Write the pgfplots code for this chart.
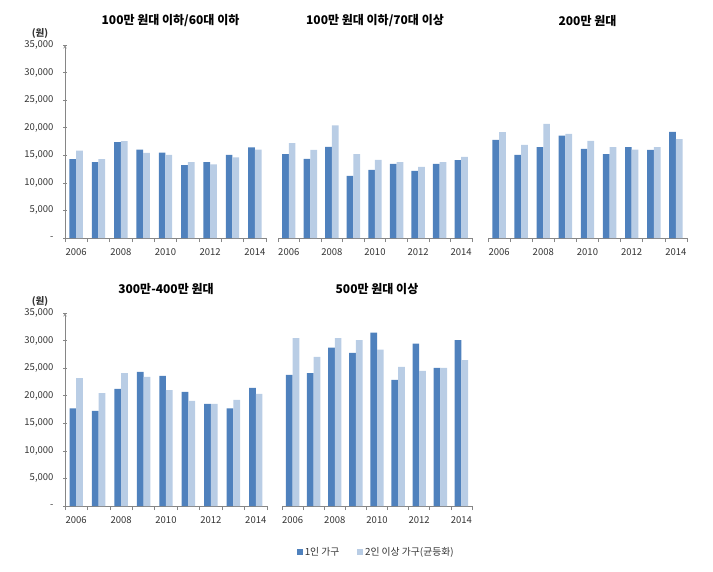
\documentclass[border=0pt]{standalone}
\usepackage{fontspec}
\setmainfont{Noto Sans CJK KR}
\usepackage{pgfplots}
\pgfplotsset{compat=1.18}
\definecolor{dark}{HTML}{4F81BD}
\definecolor{light}{HTML}{B9CDE5}
\definecolor{axgray}{HTML}{868686}
\definecolor{txt}{HTML}{333333}
\pgfplotsset{
  panel/.style={
    scale only axis, height=193pt, ymin=0, ymax=35000, xmin=-0.5, xmax=8.5,
    anchor=south west, scaled y ticks=false, clip=false,
    ybar=0pt, bar width=6.7pt,
    axis x line=bottom, axis line style={-, draw=axgray, line width=0.6pt},
    xtick={0,2,4,6,8}, xticklabels={2006,2008,2010,2012,2014},
    major x tick style={draw=none},
    minor xtick={-0.5,0.5,1.5,2.5,3.5,4.5,5.5,6.5,7.5,8.5},
    tick align=outside, minor tick length=4pt, major tick length=4pt,
    tick style={axgray, line width=0.6pt},
    xticklabel style={font=\fontsize{9.5}{11}\selectfont, text=txt, yshift=-3pt},
    yticklabel style={font=\fontsize{9.5}{11}\selectfont, text=txt, xshift=-6pt},
    title style={font=\bfseries\fontsize{12}{14}\selectfont, at={(0.5,1)}, anchor=south, yshift=9pt},
    /pgf/number format/assume math mode=true,
  },
  leftpanel/.style={panel, axis y line=left,
    ytick={0,5000,10000,15000,20000,25000,30000,35000},
    yticklabels={{-},{5,000},{10,000},{15,000},{20,000},{25,000},{30,000},{35,000}}},
  otherpanel/.style={panel, axis y line=none},
  dk/.style={fill=dark, draw=none, legend image code/.code={\fill[dark] (0pt,-2.8pt) rectangle (5.6pt,2.8pt);}},
  lt/.style={fill=light, draw=none, legend image code/.code={\fill[light] (0pt,-2.8pt) rectangle (5.6pt,2.8pt);}},
}
\begin{document}
\begin{tikzpicture}
\useasboundingbox (0pt,0pt) rectangle (713pt,-571pt);
% Panel 1
\begin{axis}[leftpanel, at={(65pt,-238pt)}, width=201pt,
  title={100만 원대 이하/60대 이하}, title style={xshift=5pt}]
\addplot[dk] coordinates {(0,14300) (1,13750) (2,17370) (3,16040) (4,15500) (5,13210) (6,13750) (7,15080) (8,16440)};
\addplot[lt] coordinates {(0,15860) (1,14290) (2,17550) (3,15440) (4,15080) (5,13750) (6,13330) (7,14600) (8,16010)};
\node[font=\bfseries\fontsize{9.5}{11}\selectfont, text=txt] at (axis description cs:-0.124,1.062) {(원)};
\end{axis}
% Panel 2
\begin{axis}[otherpanel, at={(278pt,-238pt)}, width=194pt,
  title={100만 원대 이하/70대 이상}]
\addplot[dk] coordinates {(0,15200) (1,14350) (2,16520) (3,11280) (4,12360) (5,13450) (6,12180) (7,13450) (8,14110)};
\addplot[lt] coordinates {(0,17190) (1,15980) (2,20440) (3,15200) (4,14170) (5,13750) (6,12900) (7,13750) (8,14710)};
\end{axis}
% Panel 3
\begin{axis}[otherpanel, at={(488pt,-238pt)}, width=199pt,
  title={200만 원대}]
\addplot[dk] coordinates {(0,17790) (1,15080) (2,16460) (3,18570) (4,16160) (5,15200) (6,16460) (7,15980) (8,19240)};
\addplot[lt] coordinates {(0,19180) (1,16880) (2,20680) (3,18870) (4,17610) (5,16460) (6,16040) (7,16460) (8,17910)};
\end{axis}
% Panel 4
\begin{axis}[leftpanel, at={(65pt,-506pt)}, width=202pt,
  title={300만-400만 원대}]
\addplot[dk] coordinates {(0,17720) (1,17230) (2,21240) (3,24330) (4,23600) (5,20690) (6,18510) (7,17720) (8,21420)};
\addplot[lt] coordinates {(0,23180) (1,20450) (2,24090) (3,23420) (4,21000) (5,19050) (6,18510) (7,19240) (8,20330)};
\node[font=\bfseries\fontsize{9.5}{11}\selectfont, text=txt] at (axis description cs:-0.124,1.062) {(원)};
\end{axis}
% Panel 5
\begin{axis}[otherpanel, at={(282pt,-506pt)}, width=190pt,
  title={500만 원대 이상},
  legend style={at={(0.497,-0.238)}, anchor=center, draw=none, fill=none,
    legend columns=2, font=\fontsize{9.8}{11}\selectfont, text=txt,
    /tikz/every even column/.append style={column sep=16pt},
    legend cell align=left}]
\addplot[dk] coordinates {(0,23790) (1,24090) (2,28700) (3,27790) (4,31430) (5,22880) (6,29430) (7,25060) (8,30100)};
\addlegendentry{1인 가구}
\addplot[lt] coordinates {(0,30460) (1,27060) (2,30460) (3,30100) (4,28340) (5,25240) (6,24510) (7,25060) (8,26460)};
\addlegendentry{2인 이상 가구(균등화)}
\end{axis}
\end{tikzpicture}
\end{document}
